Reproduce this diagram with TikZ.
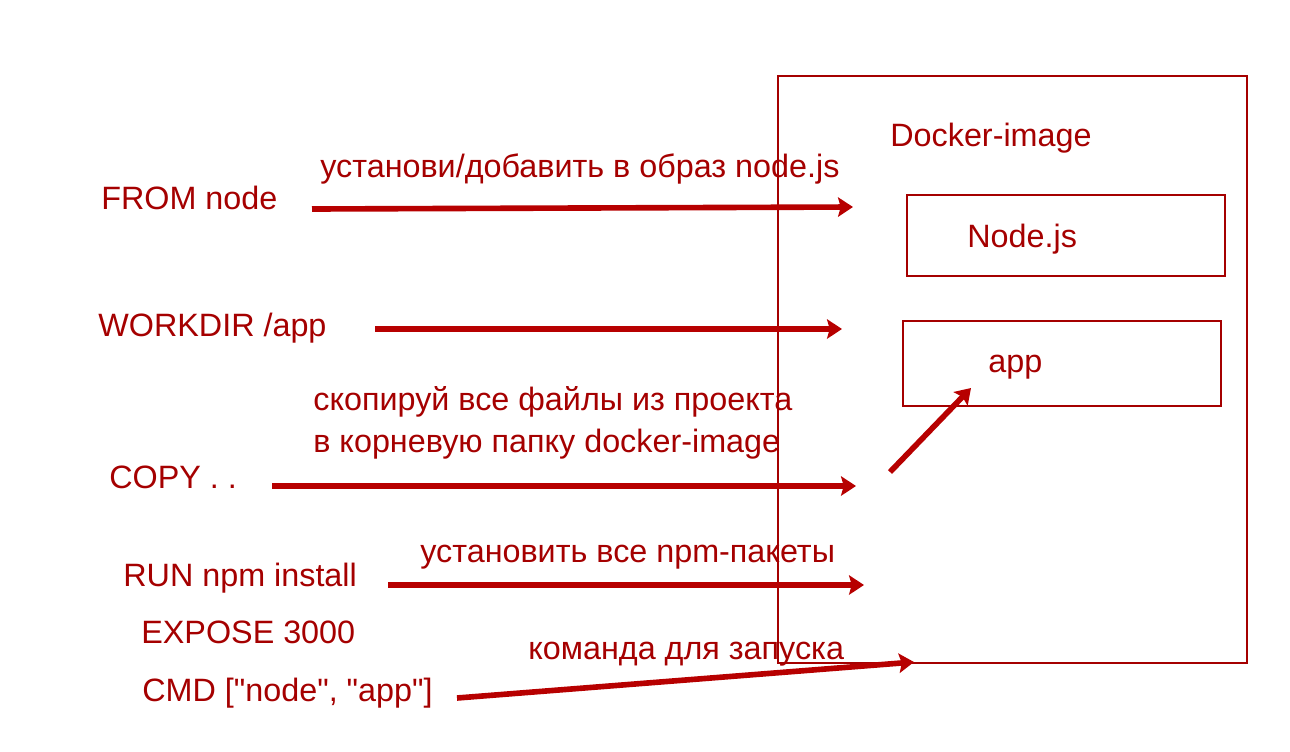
\documentclass[tikz,border=0pt]{standalone}
\usepackage{fontspec}
\newfontfamily\lblfont{Liberation Sans}
\usetikzlibrary{arrows.meta}
\definecolor{txtred}{RGB}{165,0,0}
\definecolor{arrred}{RGB}{183,0,0}

\begin{document}
\begin{tikzpicture}[x=0.02cm,y=-0.02cm]
\tikzstyle{lbl} = [anchor=base west, inner sep=0pt, text=txtred, font=\lblfont\fontsize{18.4}{23.8}\selectfont]
\tikzstyle{box} = [draw=txtred, line width=1.1pt, inner sep=0pt]
\tikzstyle{arrow} = [draw=arrred, line width=3.2pt, -{Stealth[length=8.5pt,width=11pt,inset=1.5pt]}]

\useasboundingbox (0,0) rectangle (1290,751);

% docker image
\node [box, minimum width=9.38cm, minimum height=11.74cm] (image) at (1012.5,369.5) {};
\node [box, minimum width=6.36cm, minimum height=1.62cm] (nodebox) at (1066,235.5) {};
\node [box, minimum width=6.36cm, minimum height=1.70cm] (appbox) at (1062,363.5) {};
\node [lbl] (imagetitle) at (890,146) {Docker-image};
\node [lbl] (nodetitle) at (967,247) {Node.js};
\node [lbl] (apptitle) at (988,372) {app};

% dockerfile
\node [lbl] (from) at (101,209) {FROM node};
\node [lbl] (workdir) at (98,336) {WORKDIR /app};
\node [lbl] (copy) at (109,488) {COPY . .};
\node [lbl] (run) at (123,586) {RUN npm install};
\node [lbl] (expose) at (141,643) {EXPOSE 3000};
\node [lbl] (cmd) at (142,701) {CMD ["node", "app"]};

% comments
\node [lbl] (fromnote) at (320,177) {установи/добавить в образ node.js};
\node [lbl, align=left] (copynote) at (313,452) {скопируй все файлы из проекта\\в корневую папку docker-image};
\node [lbl] (runnote) at (420,562) {установить все npm-пакеты};
\node [lbl] (cmdnote) at (528,659) {команда для запуска};

\coordinate (from1) at (312,209);
\coordinate (from2) at (853,207);
\coordinate (work1) at (375,329);
\coordinate (work2) at (842,329);
\coordinate (copy1) at (272,486);
\coordinate (copy2) at (856,486);
\coordinate (copy3) at (890,472);
\coordinate (copy4) at (971,388);
\coordinate (run1) at (388,585);
\coordinate (run2) at (864,585);
\coordinate (cmd1) at (457,698);
\coordinate (cmd2) at (914,662);

\draw [arrow] (from1) -- (from2);
\draw [arrow] (work1) -- (work2);
\draw [arrow] (copy1) -- (copy2);
\draw [arrow] (copy3) -- (copy4);
\draw [arrow] (run1) -- (run2);
\draw [arrow] (cmd1) -- (cmd2);
\end{tikzpicture}
\end{document}
